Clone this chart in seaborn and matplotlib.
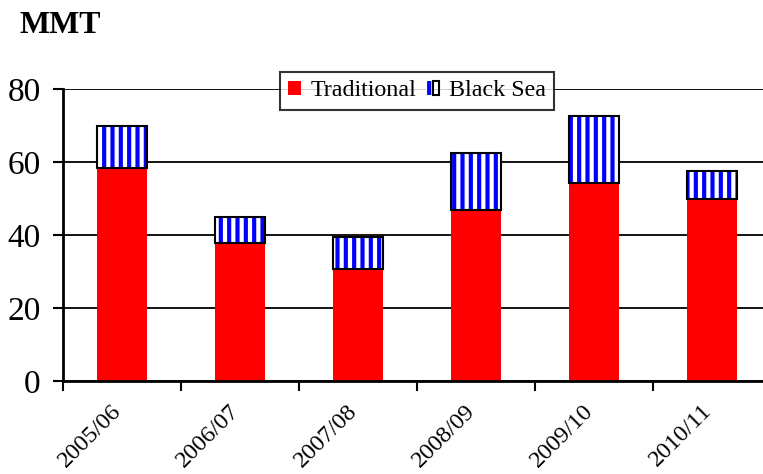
import numpy as np
import pandas as pd
import matplotlib
matplotlib.use("Agg")
import matplotlib.pyplot as plt
import matplotlib.transforms as mtransforms
from matplotlib.patches import Patch
from matplotlib.legend_handler import HandlerTuple
import seaborn as sns

# values (million metric tons)
seasons = ['2005/06', '2006/07', '2007/08', '2008/09', '2009/10', '2010/11']
traditional = [58.4, 37.8, 30.7, 46.8, 54.2, 49.9]
black_sea = [11.5, 7.1, 8.8, 15.7, 18.4, 7.6]
y_ticks = [0, 20, 40, 60, 80]

sns.set_style("white")
plt.rcParams['font.family'] = ['Liberation Serif', 'DejaVu Serif']
plt.rcParams['text.color'] = 'black'
plt.rcParams['xtick.color'] = 'black'
plt.rcParams['ytick.color'] = 'black'
plt.rcParams['hatch.linewidth'] = 3.0

df = pd.DataFrame({'season': seasons, 'traditional': traditional, 'black_sea': black_sea})

fig = plt.figure(figsize=(7.63, 4.74), dpi=100)
ax = fig.add_axes([63 / 763, 93 / 474, 708 / 763, 292 / 474])

bar_w = 0.42
# red base
sns.barplot(data=df, x='season', y='traditional', color='red', saturation=1,
            width=bar_w, linewidth=0, ax=ax, zorder=3)
# hatched Black Sea segment stacked on top
sns.barplot(data=df, x='season', y='black_sea', color='white', saturation=1,
            width=bar_w, edgecolor='blue', hatch='||', linewidth=0,
            bottom=df['traditional'].values, ax=ax, zorder=3)
# black outline of the Black Sea segment
sns.barplot(data=df, x='season', y='black_sea', color='black', fill=False,
            width=bar_w, linewidth=1.5, bottom=df['traditional'].values,
            ax=ax, zorder=4)

ax.set_xlim(-0.5, len(seasons) - 0.5)
ax.set_ylim(0, 80)
ax.set_yticks(y_ticks)
ax.set_xlabel('')
ax.set_ylabel('')

# gridlines
ax.grid(axis='y', color='black', linewidth=1.3)
ax.grid(axis='x', visible=False)
ax.set_axisbelow(True)

for s in ['top', 'right']:
    ax.spines[s].set_visible(False)
for s in ['left', 'bottom']:
    ax.spines[s].set_color('black')
    ax.spines[s].set_linewidth(2)
    ax.spines[s].set_zorder(5)

# category labels at centres, tick marks at boundaries
ax.set_xticks(np.arange(len(seasons)))
ax.set_xticklabels(seasons, rotation=45, ha='right', rotation_mode='anchor', fontsize=17.5)
ax.set_xticks(np.arange(len(seasons) + 1) - 0.5, minor=True)
ax.tick_params(axis='x', which='major', length=0, pad=14)
ax.tick_params(axis='x', which='minor', length=7, width=1.5, color='black', direction='out', bottom=True)
ax.tick_params(axis='y', length=7, width=1.5, color='black', direction='out', left=True,
               labelsize=24, pad=9)
shift = mtransforms.ScaledTranslation(-11 / 100, 0, fig.dpi_scale_trans)
for lbl in ax.get_xticklabels():
    lbl.set_transform(lbl.get_transform() + shift)

# legend
h_trad = Patch(facecolor='red', edgecolor='red', linewidth=0)
h_bs = (Patch(facecolor='white', edgecolor='blue', hatch='||', linewidth=0),
        Patch(fill=False, edgecolor='black', linewidth=1.5))
leg = ax.legend([h_trad, h_bs], ['Traditional', 'Black Sea'],
                handler_map={tuple: HandlerTuple(ndivide=None, pad=0)},
                loc='upper center', bbox_to_anchor=(0.5, 1.058), ncol=2,
                fontsize=17.3, frameon=True, fancybox=False, borderaxespad=0,
                handlelength=0.55, handleheight=0.55, handletextpad=0.4,
                columnspacing=0.4, borderpad=0.35)
leg.get_frame().set_edgecolor('black')
leg.get_frame().set_linewidth(1.5)
leg.set_zorder(6)

fig.text(20 / 763, 1 - 11 / 474, 'MMT', fontsize=23, fontweight='bold', va='top', ha='left')

fig.savefig('out.png', dpi=100)
